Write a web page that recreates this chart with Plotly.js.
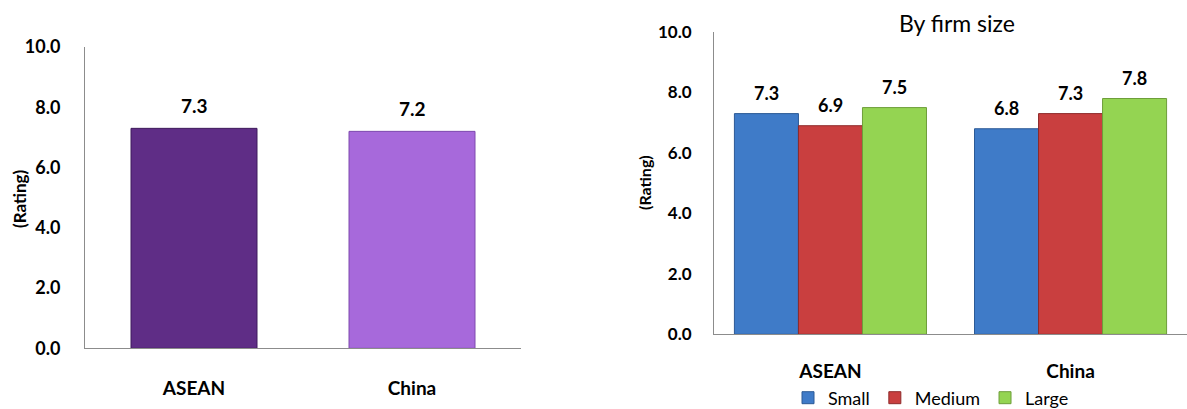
<!DOCTYPE html>
<html>
<head>
<meta charset="utf-8">
<script src="https://cdn.plot.ly/plotly-3.0.1.min.js"></script>
<style>
  html, body { margin: 0; padding: 0; background: #ffffff; overflow: hidden; }
  #chart { width: 1187px; height: 409px; }
</style>
</head>
<body>
<div id="chart"></div>
<script>
// Ratings by region, overall and split by firm size
const regions = ['ASEAN', 'China'];
const overallRating = [7.3, 7.2];
const sizeGroups = ['Small', 'Medium', 'Large'];
const smallRating = [7.3, 6.8];
const mediumRating = [6.9, 7.3];
const largeRating = [7.5, 7.8];
const yTickValues = [0, 2, 4, 6, 8, 10];

const FONT = 'Lato, "Open Sans", sans-serif';
const W = 1187, H = 409;
const px = v => v / W;
const py = v => 1 - v / H;

const overallColors = ['#5F2D86', '#A769DB'];
const overallEdges = ['#3E1A5C', '#7E4AAE'];
const sizeColors = ['#3F7BC8', '#C93F3F', '#94D452'];
const sizeEdges = ['#2C5A96', '#8E2A2A', '#6E9E3A'];
const sizeSeries = [smallRating, mediumRating, largeRating];
const BARGAP = 0.2;

const traces = [];
traces.push({
  type: 'bar', x: regions, y: overallRating,
  xaxis: 'x', yaxis: 'y', width: 0.578, showlegend: false,
  marker: { color: overallColors, line: { color: overallEdges, width: 1 } },
  hoverinfo: 'x+y'
});
sizeGroups.forEach((name, i) => {
  traces.push({
    type: 'bar', name: name, x: regions, y: sizeSeries[i],
    xaxis: 'x2', yaxis: 'y2',
    marker: { color: sizeColors[i], line: { color: sizeEdges[i], width: 1 } },
    hoverinfo: 'name+y'
  });
});

// Value labels above each bar
const annotations = [];
regions.forEach((r, j) => {
  annotations.push({
    xref: 'x', yref: 'y', x: j, y: overallRating[j], yshift: 23,
    text: '<b>' + overallRating[j].toFixed(1) + '</b>', showarrow: false,
    yanchor: 'middle', font: { family: FONT, size: 19, color: '#000' }
  });
});
const barW = (1 - BARGAP) / sizeGroups.length;
sizeSeries.forEach((vals, i) => {
  vals.forEach((v, j) => {
    annotations.push({
      xref: 'x2', yref: 'y2', x: j + (i - (sizeGroups.length - 1) / 2) * barW, y: v, yshift: 21,
      text: '<b>' + v.toFixed(1) + '</b>', showarrow: false,
      yanchor: 'middle', font: { family: FONT, size: 18, color: '#000' }
    });
  });
});
// Axis titles and panel title
annotations.push({
  xref: 'paper', yref: 'paper', x: px(19), y: py(199), textangle: -90,
  text: '<b>(Rating)</b>', showarrow: false, xanchor: 'center', yanchor: 'middle',
  font: { family: FONT, size: 17, color: '#000' }
});
annotations.push({
  xref: 'paper', yref: 'paper', x: px(644), y: py(183), textangle: -90,
  text: '<b>(Rating)</b>', showarrow: false, xanchor: 'center', yanchor: 'middle',
  font: { family: FONT, size: 16, color: '#000' }
});
annotations.push({
  xref: 'paper', yref: 'paper', x: px(957), y: py(23),
  text: 'By firm size', showarrow: false, xanchor: 'center', yanchor: 'middle',
  font: { family: FONT, size: 23, color: '#000' }
});

const yaxisBase = {
  range: [0, 10], tickvals: yTickValues, tickformat: '.1f',
  showgrid: false, zeroline: false, showline: true, linecolor: '#8C8C8C', linewidth: 1,
  ticks: '', tickfont: { family: FONT, size: 18, color: '#000', weight: 'bold' },
  fixedrange: true
};
const xaxisBase = {
  type: 'category', showgrid: false, zeroline: false, showline: true,
  linecolor: '#8C8C8C', linewidth: 1, ticks: '',
  tickfont: { family: FONT, size: 19, color: '#000', weight: 'bold' },
  fixedrange: true
};

const layout = {
  width: W, height: H,
  margin: { l: 0, r: 0, t: 0, b: 0, pad: 0, autoexpand: false },
  paper_bgcolor: '#ffffff', plot_bgcolor: '#ffffff',
  barmode: 'group', bargap: BARGAP, bargroupgap: 0,
  font: { family: FONT, color: '#000' },
  xaxis: Object.assign({}, xaxisBase, {
    domain: [px(85), px(521)], range: [-0.5, 1.5], anchor: 'y', ticklabelstandoff: 23
  }),
  yaxis: Object.assign({}, yaxisBase, {
    domain: [py(348.3), py(47)], anchor: 'x', ticklabelstandoff: 20
  }),
  xaxis2: Object.assign({}, xaxisBase, {
    domain: [px(714), 1], range: [-0.485, 1.485], anchor: 'y2', ticklabelstandoff: 20
  }),
  yaxis2: Object.assign({}, yaxisBase, {
    domain: [py(334.3), py(32)], anchor: 'x2', ticklabelstandoff: 18,
    tickfont: { family: FONT, size: 17, color: '#000', weight: 'bold' }
  }),
  showlegend: true,
  legend: {
    orientation: 'h', x: px(788), y: py(398), xanchor: 'left', yanchor: 'middle',
    font: { family: FONT, size: 18, color: '#000' },
    itemwidth: 30, bgcolor: 'rgba(0,0,0,0)', traceorder: 'normal'
  },
  annotations: annotations
};

Plotly.newPlot('chart', traces, layout, { displayModeBar: false, staticPlot: true });
</script>
</body>
</html>
